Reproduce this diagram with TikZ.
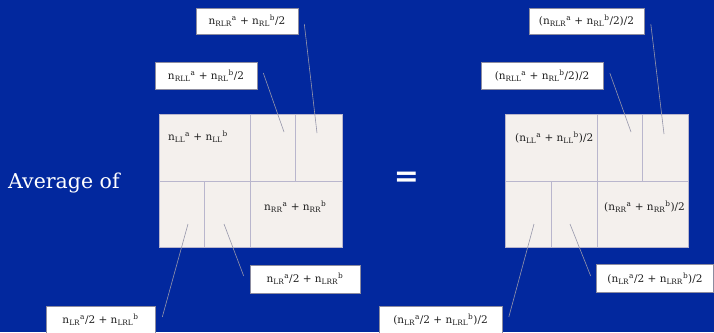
\documentclass[tikz,border=0pt]{standalone}
\usepackage{fontspec}
\setmainfont{DejaVu Serif}
\definecolor{bgblue}{RGB}{2,40,158}
\definecolor{cellfill}{RGB}{244,240,237}
\definecolor{gridline}{RGB}{185,182,205}
\definecolor{leader}{RGB}{150,150,170}
\definecolor{boxline}{RGB}{140,140,160}
\definecolor{txt}{RGB}{30,30,30}
\newcommand{\nn}[3]{n\textsubscript{#1}\textsuperscript{#2}#3}
\tikzset{
  lbl/.style={draw=boxline, line width=0.6pt, fill=white, inner sep=0pt, minimum height=27pt,
    font=\fontsize{10.5}{12}\selectfont, text=txt},
  celltext/.style={inner sep=0pt, font=\fontsize{10.5}{12}\selectfont, text=txt},
  leaderline/.style={draw=leader, line width=0.6pt},
  gridbox/.style={draw=gridline, line width=0.8pt, fill=cellfill},
  gridl/.style={draw=gridline, line width=0.8pt},
}
\begin{document}
\begin{tikzpicture}[x=1pt,y=-1pt]
\fill[bgblue] (0,0) rectangle (714,332);
\useasboundingbox (0,0) rectangle (714,332);
\begin{scope}
\clip (0,0) rectangle (714,332);
% left grid
\path[gridbox] (159,114.5) rectangle (342,247);
\draw[gridl] (159,181) -- (342,181);
\draw[gridl] (250.5,114.5) -- (250.5,247);
\draw[gridl] (295.5,114.5) -- (295.5,181);
\draw[gridl] (204.5,181) -- (204.5,247);
% right grid
\path[gridbox] (505.5,114.5) rectangle (688,247);
\draw[gridl] (505.5,181) -- (688,181);
\draw[gridl] (597,114.5) -- (597,247);
\draw[gridl] (642.5,114.5) -- (642.5,181);
\draw[gridl] (551,181) -- (551,247);

% texts
\node[text=white, anchor=base west, inner sep=0pt, font=\fontsize{20.5}{24}\selectfont] (avg) at (8,188.3) {Average of};
\node[text=white, inner sep=0pt, font=\fontsize{30}{34}\bfseries] (eq) at (406.5,179.5) {=};

\node[celltext, anchor=west] (LLl) at (168,137) {\nn{LL}{a}{} + \nn{LL}{b}{}};
\node[celltext, anchor=west] (RRl) at (264,207) {\nn{RR}{a}{} + \nn{RR}{b}{}};
\node[celltext, anchor=west] (LLr) at (515,138) {(\nn{LL}{a}{} + \nn{LL}{b}{})/2};
\node[celltext, anchor=west] (RRr) at (604,207) {(\nn{RR}{a}{} + \nn{RR}{b}{})/2};

% label boxes left
\node[lbl, minimum width=102pt, minimum height=26pt] (Lrlr) at (247,21) {\nn{RLR}{a}{} + \nn{RL}{b}{/2}};
\node[lbl, minimum width=102pt] (Lrll) at (206,75.5) {\nn{RLL}{a}{} + \nn{RL}{b}{/2}};
\node[lbl, minimum width=110pt, minimum height=28pt] (Llrr) at (305,279) {\nn{LR}{a}{/2} + \nn{LRR}{b}{}};
\node[lbl, minimum width=109pt, minimum height=28pt] (Llrl) at (100.5,320) {\nn{LR}{a}{/2} + \nn{LRL}{b}{}};
% label boxes right
\node[lbl, minimum width=115pt, minimum height=26pt] (Rrlr) at (586.5,21) {(\nn{RLR}{a}{} + \nn{RL}{b}{/2})/2};
\node[lbl, minimum width=122pt] (Rrll) at (542,75.5) {(\nn{RLL}{a}{} + \nn{RL}{b}{/2})/2};
\node[lbl, minimum width=117pt, minimum height=28pt] (Rlrr) at (655,278.5) {(\nn{LR}{a}{/2} + \nn{LRR}{b}{})/2};
\node[lbl, minimum width=123pt, minimum height=28pt] (Rlrl) at (440.5,320) {(\nn{LR}{a}{/2} + \nn{LRL}{b}{})/2};

% leader ends
\coordinate (a1) at (317,133);
\coordinate (a2) at (284,132);
\coordinate (a3) at (224,224);
\coordinate (a4) at (188,224);
\coordinate (b1) at (664,134);
\coordinate (b2) at (631,132);
\coordinate (b3) at (570,224);
\coordinate (b4) at (534,224);

\draw[leaderline] ([shift={(6,3)}]Lrlr.east) -- (a1);
\draw[leaderline] ([shift={(6,-2.5)}]Lrll.east) -- (a2);
\draw[leaderline] ([shift={(-6,-3)}]Llrr.west) -- (a3);
\draw[leaderline] ([shift={(7,-3)}]Llrl.east) -- (a4);
\draw[leaderline] ([shift={(6.5,3)}]Rrlr.east) -- (b1);
\draw[leaderline] ([shift={(6.5,-2.5)}]Rrll.east) -- (b2);
\draw[leaderline] ([shift={(-5.5,-2.5)}]Rlrr.west) -- (b3);
\draw[leaderline] ([shift={(6.5,-3)}]Rlrl.east) -- (b4);
\end{scope}
\end{tikzpicture}
\end{document}
